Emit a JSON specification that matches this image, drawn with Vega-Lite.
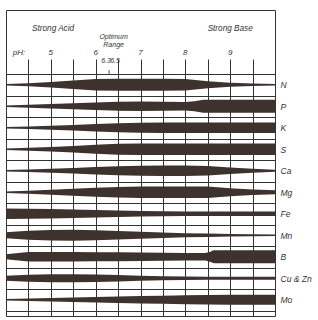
{
  "$schema": "https://vega.github.io/schema/vega-lite/v6.json",
  "width": 269,
  "height": 306,
  "padding": {"left": 6, "top": 6, "right": 0, "bottom": 0},
  "background": "white",
  "config": {
    "view": {"stroke": "#333", "strokeWidth": 1},
    "font": "Liberation Sans"
  },
  "encoding": {
    "x": {"field": "ph", "type": "quantitative", "scale": {"domain": [4, 10]},
      "axis": {"values": [4.5, 5, 5.5, 6, 6.5, 7, 7.5, 8, 8.5, 9, 9.5], "orient": "bottom", "tickSize": -257, "tickColor": "#333", "tickWidth": 1, "labels": false, "domain": false, "grid": false, "title": null}}
  },
  "layer": [
    {
      "data": {"values": [
        {"n": "N", "ph": 4, "a": 1.5}, {"n": "N", "ph": 4.5, "a": 3}, {"n": "N", "ph": 5, "a": 5.5}, {"n": "N", "ph": 5.5, "a": 8.5}, {"n": "N", "ph": 6, "a": 11.5}, {"n": "N", "ph": 6.5, "a": 12}, {"n": "N", "ph": 7, "a": 12}, {"n": "N", "ph": 7.5, "a": 12}, {"n": "N", "ph": 8, "a": 11.5}, {"n": "N", "ph": 8.5, "a": 7}, {"n": "N", "ph": 9, "a": 4}, {"n": "N", "ph": 9.5, "a": 2.5}, {"n": "N", "ph": 10, "a": 1.5},
        {"n": "P", "ph": 4, "a": 1.5}, {"n": "P", "ph": 4.5, "a": 3}, {"n": "P", "ph": 5, "a": 4.5}, {"n": "P", "ph": 5.5, "a": 6}, {"n": "P", "ph": 6, "a": 7.5}, {"n": "P", "ph": 6.5, "a": 9}, {"n": "P", "ph": 7, "a": 9.5}, {"n": "P", "ph": 7.5, "a": 9}, {"n": "P", "ph": 8, "a": 8.5}, {"n": "P", "ph": 8.2, "a": 10}, {"n": "P", "ph": 8.4, "a": 13}, {"n": "P", "ph": 10, "a": 13},
        {"n": "K", "ph": 4, "a": 1.5}, {"n": "K", "ph": 4.5, "a": 2.5}, {"n": "K", "ph": 5, "a": 4}, {"n": "K", "ph": 5.5, "a": 5.5}, {"n": "K", "ph": 6, "a": 7.5}, {"n": "K", "ph": 6.5, "a": 9}, {"n": "K", "ph": 7, "a": 10}, {"n": "K", "ph": 7.5, "a": 10.5}, {"n": "K", "ph": 10, "a": 10.5},
        {"n": "S", "ph": 4, "a": 1.5}, {"n": "S", "ph": 4.5, "a": 3}, {"n": "S", "ph": 5, "a": 4.5}, {"n": "S", "ph": 5.5, "a": 6.5}, {"n": "S", "ph": 6, "a": 9}, {"n": "S", "ph": 6.5, "a": 11}, {"n": "S", "ph": 7, "a": 11.5}, {"n": "S", "ph": 10, "a": 11.5},
        {"n": "Ca", "ph": 4, "a": 1.5}, {"n": "Ca", "ph": 4.5, "a": 2.5}, {"n": "Ca", "ph": 5, "a": 4}, {"n": "Ca", "ph": 5.5, "a": 5.5}, {"n": "Ca", "ph": 6, "a": 7.5}, {"n": "Ca", "ph": 6.5, "a": 9}, {"n": "Ca", "ph": 7, "a": 10}, {"n": "Ca", "ph": 7.5, "a": 10.5}, {"n": "Ca", "ph": 8, "a": 10.5}, {"n": "Ca", "ph": 8.5, "a": 9.5}, {"n": "Ca", "ph": 9, "a": 6.5}, {"n": "Ca", "ph": 9.5, "a": 4}, {"n": "Ca", "ph": 10, "a": 2},
        {"n": "Mg", "ph": 4, "a": 1.5}, {"n": "Mg", "ph": 4.5, "a": 3}, {"n": "Mg", "ph": 5, "a": 5}, {"n": "Mg", "ph": 5.5, "a": 7}, {"n": "Mg", "ph": 6, "a": 9}, {"n": "Mg", "ph": 6.5, "a": 10.5}, {"n": "Mg", "ph": 7, "a": 11.5}, {"n": "Mg", "ph": 8.5, "a": 11.5}, {"n": "Mg", "ph": 9, "a": 8}, {"n": "Mg", "ph": 9.5, "a": 5.5}, {"n": "Mg", "ph": 10, "a": 4},
        {"n": "Fe", "ph": 4, "a": 10.5}, {"n": "Fe", "ph": 4.5, "a": 10}, {"n": "Fe", "ph": 5, "a": 9.5}, {"n": "Fe", "ph": 5.5, "a": 8.5}, {"n": "Fe", "ph": 6, "a": 7.5}, {"n": "Fe", "ph": 6.5, "a": 6.5}, {"n": "Fe", "ph": 7, "a": 5.5}, {"n": "Fe", "ph": 7.5, "a": 5}, {"n": "Fe", "ph": 8, "a": 4.5}, {"n": "Fe", "ph": 10, "a": 4.5},
        {"n": "Mn", "ph": 4, "a": 6}, {"n": "Mn", "ph": 4.5, "a": 9}, {"n": "Mn", "ph": 5, "a": 10.5}, {"n": "Mn", "ph": 5.5, "a": 11}, {"n": "Mn", "ph": 6, "a": 10}, {"n": "Mn", "ph": 6.5, "a": 8.5}, {"n": "Mn", "ph": 7, "a": 7}, {"n": "Mn", "ph": 7.5, "a": 5.5}, {"n": "Mn", "ph": 8, "a": 4}, {"n": "Mn", "ph": 8.5, "a": 3.5}, {"n": "Mn", "ph": 9, "a": 2.5}, {"n": "Mn", "ph": 9.5, "a": 2}, {"n": "Mn", "ph": 10, "a": 1.5},
        {"n": "B", "ph": 4, "a": 5}, {"n": "B", "ph": 4.5, "a": 9.5}, {"n": "B", "ph": 5, "a": 9.5}, {"n": "B", "ph": 5.5, "a": 9.5}, {"n": "B", "ph": 6, "a": 9}, {"n": "B", "ph": 6.5, "a": 9}, {"n": "B", "ph": 7, "a": 8.5}, {"n": "B", "ph": 7.5, "a": 8}, {"n": "B", "ph": 8, "a": 7.5}, {"n": "B", "ph": 8.45, "a": 7.3}, {"n": "B", "ph": 8.65, "a": 13}, {"n": "B", "ph": 10, "a": 13},
        {"n": "Cu & Zn", "ph": 4, "a": 5}, {"n": "Cu & Zn", "ph": 4.5, "a": 7}, {"n": "Cu & Zn", "ph": 5, "a": 8}, {"n": "Cu & Zn", "ph": 5.5, "a": 8}, {"n": "Cu & Zn", "ph": 6, "a": 7.5}, {"n": "Cu & Zn", "ph": 6.5, "a": 6.5}, {"n": "Cu & Zn", "ph": 7, "a": 5}, {"n": "Cu & Zn", "ph": 7.5, "a": 4}, {"n": "Cu & Zn", "ph": 8, "a": 3.5}, {"n": "Cu & Zn", "ph": 8.5, "a": 3}, {"n": "Cu & Zn", "ph": 10, "a": 3},
        {"n": "Mo", "ph": 4, "a": 1.5}, {"n": "Mo", "ph": 4.5, "a": 2.5}, {"n": "Mo", "ph": 5, "a": 3.5}, {"n": "Mo", "ph": 5.5, "a": 4.5}, {"n": "Mo", "ph": 6, "a": 5.5}, {"n": "Mo", "ph": 6.5, "a": 6.5}, {"n": "Mo", "ph": 7, "a": 7.5}, {"n": "Mo", "ph": 7.5, "a": 8}, {"n": "Mo", "ph": 8, "a": 9}, {"n": "Mo", "ph": 8.5, "a": 9.5}, {"n": "Mo", "ph": 9, "a": 10}, {"n": "Mo", "ph": 10, "a": 10}
      ]},
      "mark": {"type": "trail", "color": "#3d322d", "clip": true},
      "encoding": {
        "y": {"field": "n", "type": "nominal", "bandPosition": 0.5,
          "scale": {"type": "band", "domain": ["N", "P", "K", "S", "Ca", "Mg", "Fe", "Mn", "B", "Cu & Zn", "Mo"], "range": [64, 300.5], "paddingInner": 0, "paddingOuter": 0},
          "axis": {"orient": "right", "tickBand": "extent", "grid": true, "gridColor": "#333", "gridOpacity": 1, "ticks": false, "domain": false, "labelPadding": 5, "labelFontStyle": "italic", "labelFont": "Liberation Sans", "labelFontSize": 8.5, "labelColor": "#333", "labelAlign": "left", "labelBaseline": "middle", "title": null}},
        "size": {"field": "a", "type": "quantitative", "scale": {"domain": [0, 13], "range": [0, 13]}, "legend": null},
        "detail": {"field": "n"}
      }
    },
    {
      "data": {"values": [
        {"t": "Strong Acid", "ph": 5.05, "lv": 1},
        {"t": "Strong Base", "ph": 9.0, "lv": 1}
      ]},
      "mark": {"type": "text", "fontSize": 8.2, "fontStyle": "italic", "fill": "#333", "baseline": "middle"},
      "encoding": {
        "y": {"field": "lv", "type": "ordinal", "scale": {"type": "point", "domain": [1, 2, 3, 4, 5, 6, 7, 8, 9, 10, 11, 12, 13], "range": [18.5, 66.5], "padding": 0}, "axis": null},
        "text": {"field": "t"}
      }
    },
    {
      "data": {"values": [
        {"t": "Optimum", "ph": 6.4, "lv": 3},
        {"t": "Range", "ph": 6.4, "lv": 5}
      ]},
      "mark": {"type": "text", "fontSize": 7, "fontStyle": "italic", "fill": "#333", "baseline": "middle"},
      "encoding": {
        "y": {"field": "lv", "type": "ordinal", "scale": {"type": "point", "domain": [1, 2, 3, 4, 5, 6, 7, 8, 9, 10, 11, 12, 13], "range": [18.5, 66.5], "padding": 0}, "axis": null},
        "text": {"field": "t"}
      }
    },
    {
      "data": {"values": [
        {"t": "pH:", "ph": 4.29, "lv": 7},
        {"t": "5", "ph": 5, "lv": 7},
        {"t": "6", "ph": 6, "lv": 7},
        {"t": "7", "ph": 7, "lv": 7},
        {"t": "8", "ph": 8, "lv": 7},
        {"t": "9", "ph": 9, "lv": 7}
      ]},
      "mark": {"type": "text", "fontSize": 8, "fontStyle": "italic", "fill": "#333", "baseline": "middle"},
      "encoding": {
        "y": {"field": "lv", "type": "ordinal", "scale": {"type": "point", "domain": [1, 2, 3, 4, 5, 6, 7, 8, 9, 10, 11, 12, 13], "range": [18.5, 66.5], "padding": 0}, "axis": null},
        "text": {"field": "t"}
      }
    },
    {
      "data": {"values": [
        {"t": "6.3", "ph": 6.3, "lv": 9},
        {"t": "6.5", "ph": 6.5, "lv": 9}
      ]},
      "mark": {"type": "text", "fontSize": 7, "fontStyle": "italic", "fill": "#333", "baseline": "middle", "dx": -3},
      "encoding": {
        "y": {"field": "lv", "type": "ordinal", "scale": {"type": "point", "domain": [1, 2, 3, 4, 5, 6, 7, 8, 9, 10, 11, 12, 13], "range": [18.5, 66.5], "padding": 0}, "axis": null},
        "text": {"field": "t"}
      }
    },
    {
      "data": {"values": [
        {"ph": 6.3, "lv": 12}
      ]},
      "mark": {"type": "tick", "orient": "vertical", "size": 5, "thickness": 1, "color": "#555", "opacity": 1},
      "encoding": {
        "y": {"field": "lv", "type": "ordinal", "scale": {"type": "point", "domain": [1, 2, 3, 4, 5, 6, 7, 8, 9, 10, 11, 12, 13], "range": [18.5, 66.5], "padding": 0}, "axis": null}
      }
    }
  ],
  "resolve": {"scale": {"y": "independent"}, "axis": {"y": "independent"}}
}
